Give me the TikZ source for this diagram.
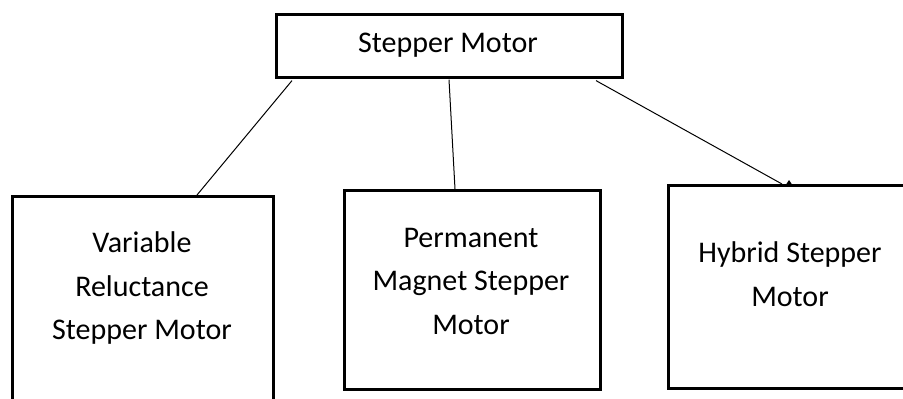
\documentclass[tikz,border=0pt]{standalone}
\usepackage{fontspec}
\setmainfont{Carlito}
\begin{document}
\begin{tikzpicture}[x=1pt,y=-1pt,
  box/.style={draw=black, line width=2.6pt, fill=white, inner sep=0pt, anchor=north west},
  label text/.style={align=center, inner sep=0pt, font=\fontsize{30}{43.5}\selectfont},
  link/.style={draw=black, line width=1pt}]
  \useasboundingbox (0,0) rectangle (903,399);
  \clip (0,0) rectangle (903,399);

  % boxes (the lower left and right ones run past the page edge)
  \node[box, minimum width=346pt, minimum height=63pt] (top) at (275,13) {};
  \node[box, minimum width=261pt, minimum height=240pt] (vr) at (11,195) {};
  \node[box, minimum width=256pt, minimum height=199pt] (pm) at (343,189) {};
  \node[box, minimum width=250pt, minimum height=203pt] (hy) at (667,184) {};

  % connectors from the parent box to each kind
  \draw[link] ([xshift=17pt,yshift=-2pt]top.south west) -- ([xshift=186pt,yshift=0pt]vr.north west);
  \draw[link] ([xshift=174pt,yshift=-1pt]top.south west) -- ([xshift=112pt,yshift=0pt]pm.north west);
  \draw[link] ([xshift=321pt,yshift=-2pt]top.south west) -- ([xshift=115pt,yshift=0pt]hy.north west);
  % small arrow tip showing above the edge of the right box
  \fill[black] ([xshift=119pt,yshift=-0.5pt]hy.north west) -- ([xshift=122pt,yshift=4pt]hy.north west)
    -- ([xshift=125pt,yshift=-0.5pt]hy.north west) -- cycle;

  % labels
  \node[label text] (toptxt) at (448,45) {Stepper Motor};
  \node[label text] (vrtxt) at (142,288) {Variable\\Reluctance\\Stepper Motor};
  \node[label text] (pmtxt) at (471,281) {Permanent\\Magnet Stepper\\Motor};
  \node[label text] (hytxt) at (790,274) {Hybrid Stepper\\Motor};
\end{tikzpicture}
\end{document}
